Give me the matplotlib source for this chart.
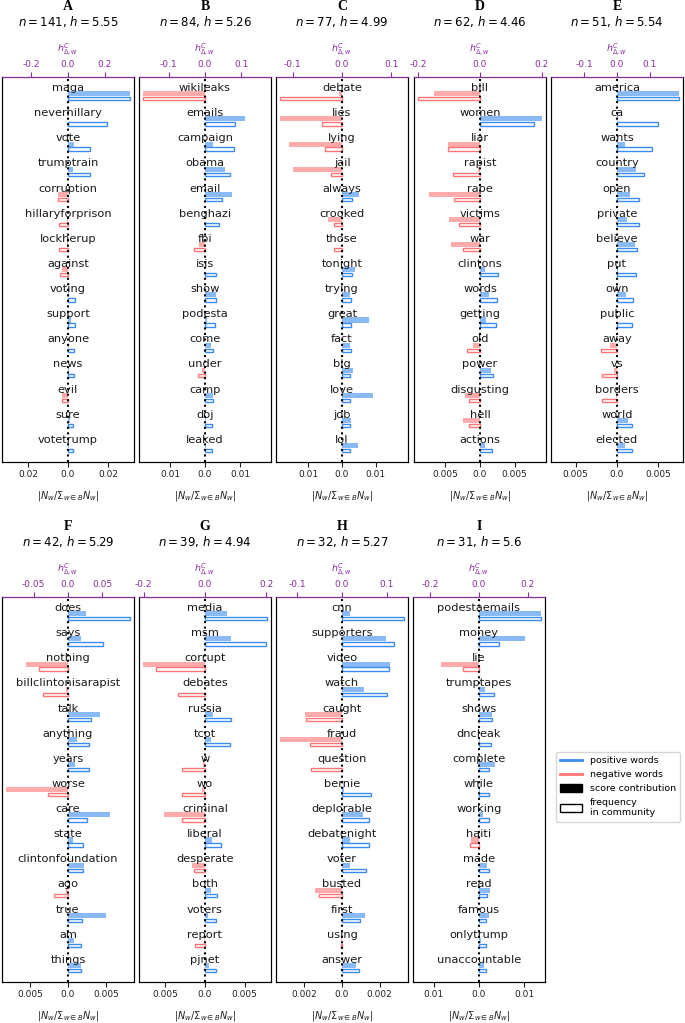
import numpy as np
import matplotlib.pyplot as plt
from matplotlib.lines import Line2D
from matplotlib.patches import Patch

plt.rcParams['axes.unicode_minus'] = False

# panel meta data
letters = ['A', 'B', 'C', 'D', 'E', 'F', 'G', 'H', 'I']
n_users = [141, 84, 77, 62, 51, 42, 39, 32, 31]
h_vals = ['5.55', '5.26', '4.99', '4.46', '5.54', '5.29', '4.94', '5.27', '5.6']
contrib_step = [0.2, 0.1, 0.1, 0.2, 0.1, 0.05, 0.2, 0.1, 0.2]
freq_step = [0.02, 0.01, 0.01, 0.005, 0.005, 0.005, 0.005, 0.002, 0.01]

# A
words_A = ['maga', 'neverhillary', 'vote', 'trumptrain', 'corruption', 'hillaryforprison',
           'lockherup', 'against', 'voting', 'support', 'anyone', 'news', 'evil', 'sure', 'votetrump']
contrib_A = [0.336, 0.0, 0.031, 0.027, -0.056, -0.005, -0.005, -0.031, 0.007, 0.015, 0.004, 0.003, -0.031, 0.011, 0.003]
freq_A = [0.0309, 0.0195, 0.0112, 0.0109, -0.005, -0.0045, -0.0045, -0.0041, 0.0033, 0.0033, 0.0028, 0.0028, -0.0028, 0.0025, 0.0025]

# B
words_B = ['wikileaks', 'emails', 'campaign', 'obama', 'email', 'benghazi', 'fbi', 'isis',
           'show', 'podesta', 'come', 'under', 'camp', 'doj', 'leaked']
contrib_B = [-0.170, 0.110, 0.021, 0.056, 0.074, 0.0, -0.016, 0.0, 0.030, 0.005, 0.016, -0.009, 0.021, 0.004, 0.002]
freq_B = [-0.0176, 0.0087, 0.0082, 0.0072, 0.0048, 0.0040, -0.0032, 0.0031, 0.0031, 0.0029, 0.0024, -0.0019, 0.0022, 0.0020, 0.0020]

# C
words_C = ['debate', 'lies', 'lying', 'jail', 'always', 'crooked', 'those', 'tonight',
           'trying', 'great', 'fact', 'big', 'love', 'job', 'lol']
contrib_C = [-0.007, -0.125, -0.108, -0.099, 0.035, -0.029, -0.001, 0.027, 0.016, 0.055, 0.017, 0.023, 0.062, 0.018, 0.032]
freq_C = [-0.0184, -0.0059, -0.0051, -0.0033, 0.0030, -0.0025, -0.0025, 0.0030, 0.0026, 0.0026, 0.0026, 0.0024, 0.0024, 0.0024, 0.0024]

# D
words_D = ['bill', 'women', 'liar', 'rapist', 'rape', 'victims', 'war', 'clintons',
           'words', 'getting', 'old', 'power', 'disgusting', 'hell', 'actions']
contrib_D = [-0.149, 0.199, -0.103, -0.006, -0.166, -0.099, -0.093, 0.015, 0.029, 0.018, -0.022, 0.035, -0.048, -0.056, 0.015]
freq_D = [-0.0089, 0.00785, -0.00465, -0.00385, -0.0038, -0.00305, -0.0024, 0.0026, 0.0025, 0.0023, -0.0019, 0.00185, -0.00165, -0.0016, 0.0017]

# E
words_E = ['america', 'ca', 'wants', 'country', 'open', 'private', 'believe', 'put',
           'own', 'public', 'away', 'vs', 'borders', 'world', 'elected']
contrib_E = [0.188, 0.002, 0.023, 0.057, 0.040, 0.030, 0.055, 0.002, 0.028, 0.001, -0.021, -0.010, -0.002, 0.035, 0.024]
freq_E = [0.00744, 0.0050, 0.0042, 0.00324, 0.00268, 0.0026, 0.0024, 0.00224, 0.0019, 0.00184, -0.00188, -0.00176, -0.00176, 0.0018, 0.00176]

# F
words_F = ['does', 'says', 'nothing', 'billclintonisarapist', 'talk', 'anything', 'years', 'worse',
           'care', 'state', 'clintonfoundation', 'ago', 'true', 'am', 'things']
contrib_F = [0.026, 0.0185, -0.062, -0.0025, 0.047, 0.0137, 0.0107, -0.090, 0.061, 0.0073, 0.024, -0.0034, 0.056, 0.0083, 0.0185]
freq_F = [0.0081, 0.0046, -0.0038, -0.0033, 0.0030, 0.0028, 0.00276, -0.00267, 0.00253, 0.0020, 0.0020, -0.0019, 0.00178, 0.00173, 0.00173]

# G
words_G = ['media', 'msm', 'corrupt', 'debates', 'russia', 'tcot', 'w', 'wo',
           'criminal', 'liberal', 'desperate', 'both', 'voters', 'report', 'pjnet']
contrib_G = [0.072, 0.086, -0.201, 0.0, 0.025, 0.018, -0.005, -0.010, -0.132, 0.022, -0.041, 0.019, 0.011, -0.002, 0.014]
freq_G = [0.00779, 0.0077, -0.00621, -0.0034, 0.00328, 0.00315, -0.0029, -0.00285, -0.00285, 0.00196, -0.00145, 0.00153, 0.0014, -0.0013, 0.0014]

# H
words_H = ['cnn', 'supporters', 'video', 'watch', 'caught', 'fraud', 'question', 'bernie',
           'deplorable', 'debatenight', 'voter', 'busted', 'first', 'using', 'answer']
contrib_H = [0.0177, 0.098, 0.108, 0.050, -0.082, -0.138, 0.0, 0.005, 0.046, 0.018, 0.018, -0.060, 0.052, -0.002, 0.032]
freq_H = [0.00327, 0.00278, 0.00248, 0.0024, -0.0019, -0.00172, -0.00166, 0.00156, 0.00142, 0.00142, 0.00129, -0.0012, 0.00097, -0.00004, 0.00092]

# I
words_I = ['podestaemails', 'money', 'lie', 'trumptapes', 'shows', 'dncleak', 'complete', 'while',
           'working', 'haiti', 'made', 'read', 'famous', 'onlytrump', 'unaccountable']
contrib_I = [0.253, 0.189, -0.157, 0.026, 0.054, 0.003, 0.065, 0.005, 0.018, -0.032, 0.033, 0.044, 0.042, 0.010, 0.019]
freq_I = [0.0136, 0.0045, -0.0035, 0.0032, 0.00284, 0.0027, 0.0022, 0.0021, 0.0021, -0.0019, 0.0021, 0.0018, 0.00145, 0.00145, 0.00145]

all_words = [words_A, words_B, words_C, words_D, words_E, words_F, words_G, words_H, words_I]
all_contrib = [contrib_A, contrib_B, contrib_C, contrib_D, contrib_E, contrib_F, contrib_G, contrib_H, contrib_I]
all_freq = [freq_A, freq_B, freq_C, freq_D, freq_E, freq_F, freq_G, freq_H, freq_I]

pos_col = '#3c8cf0'
neg_col = '#ff7474'
purple = '#8a2c9e'

W, H = 685, 1023
fig = plt.figure(figsize=(W / 100, H / 100), dpi=100)

# pixel boxes (left, top) for each panel, width 132, height 385
lefts = [2, 139, 276, 414, 551, 2, 139, 276, 413]
tops = [77] * 5 + [597] * 4
pw, ph = 132, 385

for k in range(9):
    rect = [lefts[k] / W, 1 - (tops[k] + ph) / H, pw / W, ph / H]
    ax = fig.add_axes(rect)
    ax2 = ax.twiny()
    words = all_words[k]
    contrib = np.array(all_contrib[k])
    freq = np.array(all_freq[k])
    y = -np.arange(len(words))
    cols = [pos_col if f >= 0 else neg_col for f in freq]

    ax2.barh(y - 0.23, contrib, height=0.2, color=cols, alpha=0.6, linewidth=0)
    ax.barh(y - 0.43, freq, height=0.13, facecolor='none', edgecolor=cols, linewidth=1.0)

    clim = 1.07 * np.abs(contrib).max()
    flim = 1.07 * np.abs(freq).max()
    ax2.set_xlim(-clim, clim)
    ax.set_xlim(-flim, flim)
    ax.set_ylim(-14.88, 0.44)

    ct = [-contrib_step[k], 0.0, contrib_step[k]]
    ft = [-freq_step[k], 0.0, freq_step[k]]
    ax2.set_xticks(ct)
    ax2.set_xticklabels([str(t) for t in ct])
    ax.set_xticks(ft)
    ax.set_xticklabels([str(abs(t)) for t in ft])
    ax.set_yticks([])
    ax.tick_params(axis='x', labelsize=6.5, colors='#222222', pad=2.5)
    ax2.tick_params(axis='x', labelsize=6.5, colors=purple, pad=2.0)
    ax2.spines['top'].set_color(purple)
    ax.set_xlabel(r'$|N_w/\Sigma_{w\in B}N_w|$', fontsize=7, labelpad=7, color='#222222')
    ax2.text(0.5, 1.07, r'$h^C_{\Delta,w}$', transform=ax2.transAxes, ha='center', va='center',
             fontsize=6.8, color=purple)

    for yi, w in zip(y, words):
        ax2.text(0, yi, w, ha='center', va='center', fontsize=8.2, color='#1a1a1a', zorder=3)
    ax2.axvline(0, color='black', linestyle=':', linewidth=1.5, zorder=5)

    ax2.text(0.5, 1.184, letters[k], transform=ax2.transAxes, ha='center', va='center',
             fontsize=10, fontweight='bold', family='Liberation Serif')
    ax2.text(0.5, 1.143, r'$n = %d$, $h = %s$' % (n_users[k], h_vals[k]), transform=ax2.transAxes,
             ha='center', va='center', fontsize=8.5)

handles = [Line2D([0], [0], color=pos_col, lw=2),
           Line2D([0], [0], color=neg_col, lw=2),
           Patch(facecolor='black', edgecolor='black'),
           Patch(facecolor='white', edgecolor='black')]
labels = ['positive words', 'negative words', 'score contribution', 'frequency\nin community']
fig.legend(handles, labels, loc='upper left', bbox_to_anchor=(556 / W, 1 - 752 / H),
           fontsize=6.8, handlelength=2.3, handleheight=0.9, borderpad=0.45, borderaxespad=0,
           labelspacing=0.5, handletextpad=0.8)

fig.savefig('out.png', dpi=100)
